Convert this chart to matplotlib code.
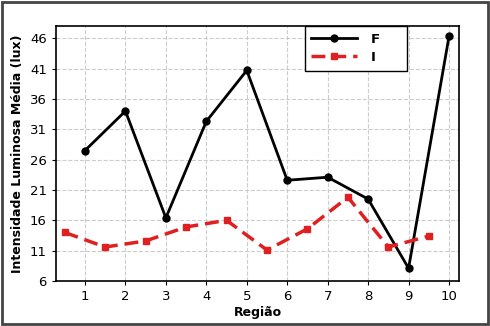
import matplotlib.pyplot as plt
from matplotlib.patches import Rectangle

x_f = [1, 2, 3, 4, 5, 6, 7, 8, 9, 10]
f_vals = [27.5, 34.0, 16.4, 32.3, 40.7, 22.6, 23.1, 19.5, 8.1, 46.3]
x_i = [0.5, 1.5, 2.5, 3.5, 4.5, 5.5, 6.5, 7.5, 8.5, 9.5]
i_vals = [14.0, 11.6, 12.6, 14.9, 16.0, 11.1, 14.6, 19.8, 11.6, 13.4]
yticks = [6, 11, 16, 21, 26, 31, 36, 41, 46]

fig = plt.figure(figsize=(4.9, 3.26), dpi=100)
ax = fig.add_axes([0.114, 0.138, 0.823, 0.782])

ax.plot(x_f, f_vals, color='black', lw=2, marker='o', ms=5, label='F', zorder=3)
ax.plot(x_i, i_vals, color='#e02020', lw=2.5, ls=(0, (4, 2)), marker='s', ms=4.5, label='I', zorder=3)

ax.set_xlim(0.28, 10.25)
ax.set_ylim(6, 48)
ax.set_xticks(x_f)
ax.set_yticks(yticks)
ax.tick_params(labelsize=9.5, length=3)
ax.grid(True, ls='--', color='#cccccc', lw=0.8)
ax.set_axisbelow(True)
for s in ax.spines.values():
    s.set_linewidth(1.2)

ax.set_xlabel('Região', fontsize=9, fontweight='bold', labelpad=2)
ax.set_ylabel('Intensidade Luminosa Média (lux)', fontsize=9, fontweight='bold')

leg = ax.legend(loc='upper left', bbox_to_anchor=(0.617, 0.0, 0.253, 1.0), mode='expand',
                fancybox=False, edgecolor='black', prop={'weight': 'bold', 'size': 9.5},
                handlelength=3.5, handletextpad=1.0, borderpad=0.5, labelspacing=0.4,
                borderaxespad=0, framealpha=1)
leg.get_frame().set_linewidth(1)

fig.patches.append(Rectangle((0.004, 0.006), 0.992, 0.988, transform=fig.transFigure,
                             fill=False, edgecolor='#444444', lw=2))

fig.savefig('out.png', dpi=100)
